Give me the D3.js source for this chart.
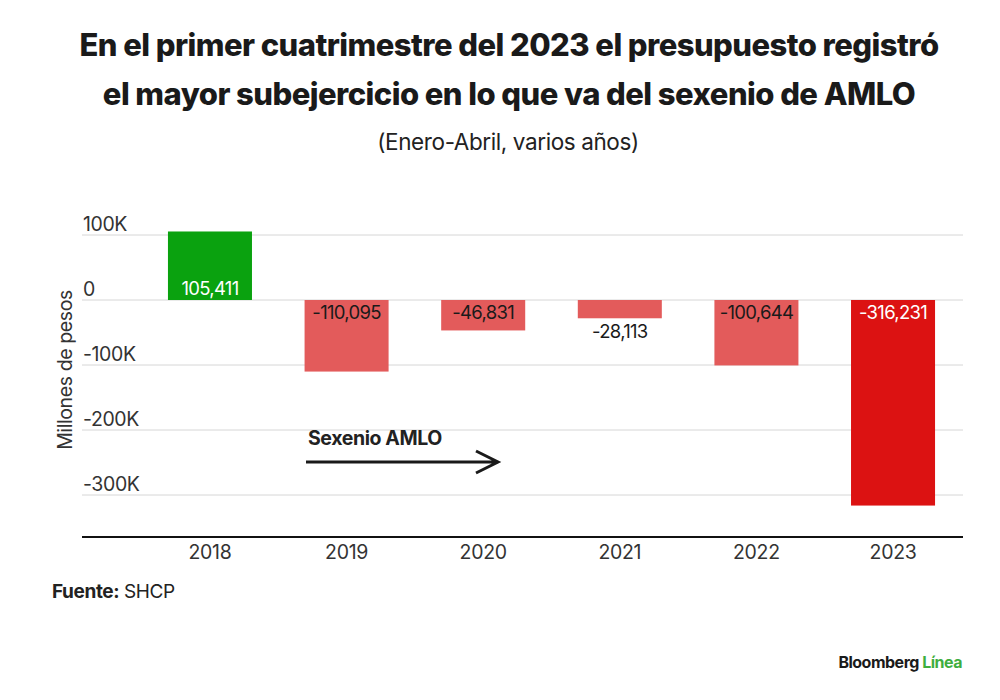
<!DOCTYPE html>
<html>
<head>
<meta charset="utf-8">
<script src="https://cdn.jsdelivr.net/npm/d3@7"></script>
<style>
  body { margin: 0; background: #fff; }
  svg text { font-family: Inter, "Liberation Sans", sans-serif; }
</style>
</head>
<body>
<div id="chart"></div>
<script>
// datos
const years = ["2018", "2019", "2020", "2021", "2022", "2023"];
const balance = [105411, -110095, -46831, -28113, -100644, -316231];
const yTicks = [100000, 0, -100000, -200000, -300000];
const yTickLabels = ["100K", "0", "-100K", "-200K", "-300K"];
const titleLines = [
    "En el primer cuatrimestre del 2023 el presupuesto registró",
    "el mayor subejercicio en lo que va del sexenio de AMLO"
];

const w = 1000, h = 700;
const gridLeft = 82, gridRight = 963;

const svg = d3.select("#chart").append("svg")
    .attr("width", w)
    .attr("height", h);

const x = d3.scaleBand()
    .domain(years)
    .range([142, 961])
    .paddingInner(0.385)
    .paddingOuter(0.19);

const y = d3.scaleLinear()
    .domain([-364600, 100000])
    .range([537, 235]);

// titulo
svg.selectAll(".title")
    .data(titleLines)
    .enter()
    .append("text")
    .attr("x", 509)
    .attr("y", (_, i) => 56 + i * 49)
    .attr("text-anchor", "middle")
    .attr("font-size", 31)
    .attr("font-weight", 800)
    .attr("letter-spacing", -0.55)
    .attr("fill", "#1a1a1a")
    .text(d => d);

svg.append("text")
    .attr("x", 508)
    .attr("y", 150)
    .attr("text-anchor", "middle")
    .attr("font-size", 22.5)
    .attr("letter-spacing", -0.4)
    .attr("fill", "#222")
    .text("(Enero-Abril, varios años)");

// rejilla
svg.append("g")
    .selectAll("line")
    .data(yTicks)
    .enter()
    .append("line")
    .attr("x1", gridLeft)
    .attr("x2", gridRight)
    .attr("y1", d => y(d))
    .attr("y2", d => y(d))
    .attr("stroke", "#d6d6d6")
    .attr("stroke-width", 1);

svg.append("g")
    .selectAll("text")
    .data(yTicks)
    .enter()
    .append("text")
    .attr("x", gridLeft + 1)
    .attr("y", d => y(d) - 4)
    .attr("font-size", 19.5)
    .attr("letter-spacing", -0.4)
    .attr("fill", "#333")
    .text((_, i) => yTickLabels[i]);

svg.append("text")
    .attr("transform", "rotate(-90)")
    .attr("x", -370)
    .attr("y", 72)
    .attr("text-anchor", "middle")
    .attr("font-size", 19.5)
    .attr("letter-spacing", -0.4)
    .attr("fill", "#333")
    .text("Millones de pesos");

// barras
const barColor = (d, i) => d > 0 ? "#0aa20f" : (i === years.length - 1 ? "#dc1212" : "#e35b5b");

svg.append("g")
    .selectAll("rect")
    .data(balance)
    .enter()
    .append("rect")
    .attr("x", (_, i) => x(years[i]))
    .attr("width", x.bandwidth())
    .attr("y", d => y(Math.max(0, d)))
    .attr("height", d => Math.abs(y(d) - y(0)))
    .attr("fill", barColor);

const fmt = d3.formatLocale({ decimal: ".", thousands: ",", grouping: [3], currency: ["$", ""], minus: "-" }).format(",");

svg.append("g")
    .selectAll("text")
    .data(balance)
    .enter()
    .append("text")
    .attr("x", (_, i) => x(years[i]) + x.bandwidth() / 2)
    .attr("y", d => {
        if (d > 0) return y(0) - 5;
        if (y(d) - y(0) < 25) return y(d) + 20;
        return y(0) + 19;
    })
    .attr("text-anchor", "middle")
    .attr("font-size", 18.5)
    .attr("letter-spacing", -0.7)
    .attr("fill", (d, i) => (d > 0 || i === years.length - 1) ? "#fff" : "#1a1a1a")
    .text(d => fmt(d));

// eje x
svg.append("line")
    .attr("x1", gridLeft)
    .attr("x2", gridRight)
    .attr("y1", 537)
    .attr("y2", 537)
    .attr("stroke", "#111")
    .attr("stroke-width", 2);

svg.append("g")
    .selectAll("text")
    .data(years)
    .enter()
    .append("text")
    .attr("x", d => x(d) + x.bandwidth() / 2)
    .attr("y", 559)
    .attr("text-anchor", "middle")
    .attr("font-size", 19.5)
    .attr("letter-spacing", -0.3)
    .attr("fill", "#333")
    .text(d => d);

// anotacion sexenio
svg.append("text")
    .attr("x", 308)
    .attr("y", 445)
    .attr("font-size", 19.5)
    .attr("font-weight", 700)
    .attr("letter-spacing", -0.4)
    .attr("fill", "#222")
    .text("Sexenio AMLO");

const arrowY = 462;
svg.append("path")
    .attr("d", `M306,${arrowY} H497 M476,${arrowY - 11} L498,${arrowY} L476,${arrowY + 11}`)
    .attr("fill", "none")
    .attr("stroke", "#1a1a1a")
    .attr("stroke-width", 3);

// fuente
const src = svg.append("text")
    .attr("x", 52)
    .attr("y", 598)
    .attr("font-size", 19)
    .attr("letter-spacing", -0.4)
    .attr("fill", "#222");
src.append("tspan").attr("font-weight", 700).text("Fuente:");
src.append("tspan").text(" SHCP");

// marca
const brand = svg.append("text")
    .attr("x", 962)
    .attr("y", 668)
    .attr("text-anchor", "end")
    .attr("font-size", 16)
    .attr("font-weight", 700)
    .attr("letter-spacing", -0.5);
brand.append("tspan").attr("fill", "#1a1a1a").text("Bloomberg ");
brand.append("tspan").attr("fill", "#3fae3f").text("Línea");
</script>
</body>
</html>
